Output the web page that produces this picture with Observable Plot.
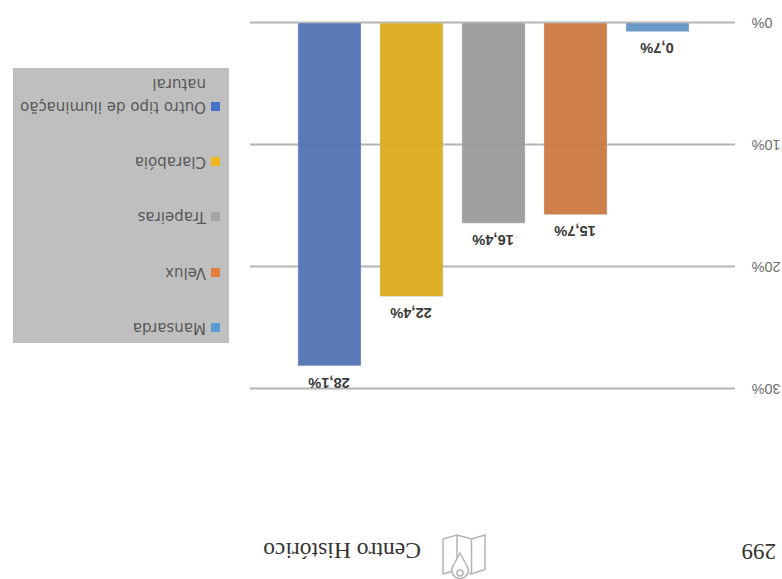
<!DOCTYPE html>
<html lang="pt">
<head>
<meta charset="utf-8">
<script src="https://cdn.jsdelivr.net/npm/d3@7"></script>
<script src="https://cdn.jsdelivr.net/npm/@observablehq/plot@0.6"></script>
<style>
html,body{margin:0;padding:0;background:#fff;width:782px;height:579px;overflow:hidden}
#page{position:absolute;left:0;top:0;width:782px;height:579px;transform:rotate(180deg);overflow:hidden;background:#fff}
#page svg.chart{position:absolute;left:0;top:0}
.hd{position:absolute;font-family:"Liberation Serif",serif;color:#333;line-height:1;white-space:nowrap}
#legend{position:absolute;left:553px;top:236px;width:216px;height:275px;background:#bfbfbf;font-family:"DejaVu Sans",sans-serif;font-size:15px;color:#595959}
.row{position:absolute;left:9px;width:200px;line-height:23px}
.sw{position:absolute;left:0;top:7px;width:9px;height:9px}
.lb{position:absolute;left:14px;top:0;width:194px}
</style>
</head>
<body>
<div id="page">
  <div class="hd" style="left:6px;top:16px;font-size:23px">299</div>
  <svg style="position:absolute;left:291px;top:0" width="55" height="50" viewBox="290 0 55 50" fill="none" stroke="#b4b4b4" stroke-width="1.5">
    <path d="M338 40L324 44L309.5 40L296 44V9.5L309.5 5L312 5.8M329 7.5L338 5V40M324 44V15M309.5 40V5"/>
    <path d="M321 26L314 13A8.2 8.2 0 1 1 328 13Z" fill="#fff"/>
    <circle cx="321" cy="6" r="3"/>
  </svg>
  <div class="hd" style="left:361px;top:17px;font-size:23.6px">Centro Histórico</div>
  <div id="legend"></div>
</div>
<script>
const categories = ["Mansarda", "Velux", "Trapeiras", "Clarabóia", "Outro tipo de iluminação natural"];
const values = [0.7, 15.7, 16.4, 22.4, 28.1];
const barColors = ["#6193c4", "#cb773f", "#999999", "#dbab17", "#4f72b1"];
const legendColors = ["#5b9bd5", "#e07f3e", "#a5a5a5", "#eeb51c", "#4472c4"];
const yTicks = [0, 10, 20, 30];
const rows = categories.map((c, i) => ({c, v: values[i], color: barColors[i]}));
const pct = v => v.toFixed(1).replace(".", ",") + "%";

const chart = Plot.plot({
  width: 782,
  height: 579,
  marginLeft: 47,
  marginRight: 250,
  marginTop: 190,
  marginBottom: 23,
  style: {background: "transparent", fontFamily: "'Liberation Sans',sans-serif"},
  x: {domain: categories, paddingInner: 0.236, paddingOuter: 0.557, align: 0.489, axis: null},
  y: {domain: [0, 30]},
  marks: [
    Plot.ruleY(yTicks, {stroke: "#b3b3b3", strokeWidth: 2}),
    Plot.axisY({
      ticks: yTicks, tickSize: 0, tickPadding: 17, label: null,
      tickFormat: d => d + "%", fontSize: 14.5, color: "#6e6e6e"
    }),
    Plot.barY(rows, {x: "c", y: "v", fill: "color", fillOpacity: 0.94, stroke: "#ccd2dc", strokeWidth: 0.6, strokeOpacity: 0.7}),
    Plot.text(rows, {
      x: "c", y: "v", text: d => pct(d.v), dy: -17,
      fontWeight: "bold", fontSize: 14.7, fill: "#3a3a3a"
    })
  ]
});
chart.classList.add("chart");
document.getElementById("page").insertBefore(chart, document.getElementById("page").firstChild);

const rowTops = [4, 59, 115, 170, 225];
const legend = document.getElementById("legend");
categories.forEach((c, i) => {
  const r = document.createElement("div");
  r.className = "row";
  r.style.top = rowTops[i] + "px";
  const s = document.createElement("div");
  s.className = "sw";
  s.style.background = legendColors[i];
  const t = document.createElement("div");
  t.className = "lb";
  t.textContent = c;
  r.append(s, t);
  legend.append(r);
});
</script>
</body>
</html>
